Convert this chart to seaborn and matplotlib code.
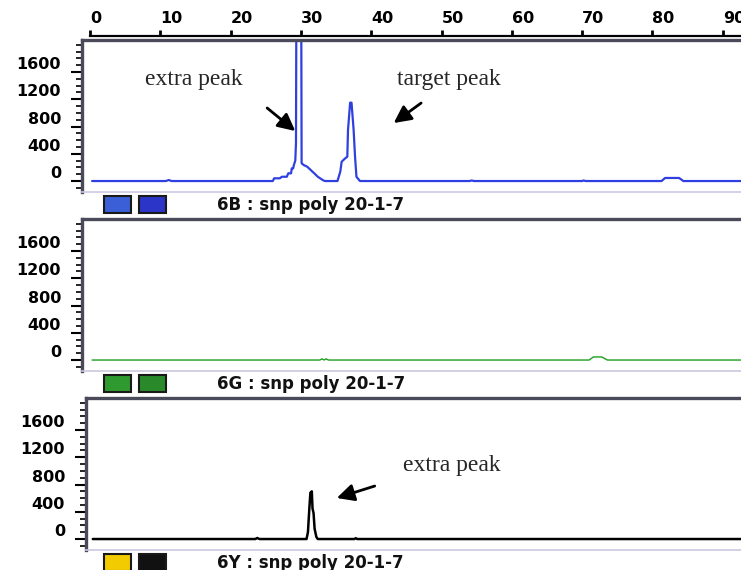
import matplotlib
matplotlib.use("Agg")
import matplotlib.pyplot as plt
from matplotlib.patches import Rectangle
from matplotlib.ticker import MultipleLocator
import seaborn as sns
import pandas as pd

# --- trace data (size in bp, signal in RFU) ---
blue_x = [0.3, 10.8, 11.2, 11.6, 26.0, 26.2, 27.0, 27.3, 28.0, 28.2, 28.6, 28.7, 28.9, 29.0, 29.2,
          29.3, 29.35, 29.7, 30.05, 30.1, 30.4, 30.9, 31.4, 31.9, 32.4, 33.1, 33.4, 35.2, 35.6,
          35.8, 36.3, 36.6, 36.7, 37.0, 37.2, 37.5, 37.7, 37.9, 38.4, 54.0, 54.3, 54.6, 70.0,
          70.2, 70.5, 81.3, 81.8, 83.8, 84.4, 92.6]
blue_y = [0, 0, 15, 0, 0, 40, 40, 63, 63, 113, 113, 186, 186, 235, 300,
          553, 2400, 3300, 2400, 260, 235, 210, 161, 113, 63, 15, 0, 0, 137,
          284, 333, 357, 749, 1150, 1150, 749, 357, 63, 0, 0, 8, 0, 0,
          8, 0, 0, 45, 45, 0, 0]

green_x = [0.3, 32.7, 33.0, 33.3, 33.6, 33.9, 71.0, 71.6, 72.8, 73.6, 92.6]
green_y = [0, 0, 18, 0, 18, 0, 0, 45, 45, 0, 0]

black_x = [0.4, 23.5, 23.8, 24.1, 30.8, 31.0, 31.2, 31.35, 31.55, 31.65, 31.8, 31.95, 32.2,
           32.4, 37.6, 37.8, 38.0, 92.6]
black_y = [0, 0, 15, 0, 0, 100, 450, 680, 700, 450, 380, 150, 30,
           0, 0, 12, 0, 0]

size_ticks = list(range(0, 100, 10))
rfu_ticks = [0, 400, 800, 1200, 1600]
panel_names = ["6B : snp poly 20-1-7", "6G : snp poly 20-1-7", "6Y : snp poly 20-1-7"]
panel_colors = ["#3040e0", "#1f9e1f", "#000000"]
swatch_colors = [("#3b5fd6", "#2b35c8"), ("#2f9a2f", "#2a8a2a"), ("#f2cc00", "#111111")]

sns.set_theme(style="white")
plt.rcParams["font.family"] = ["DejaVu Sans"]

W, H = 741, 570
fig = plt.figure(figsize=(W / 100, H / 100), dpi=100)


def fx(px):
    return px / W


def fy(py):
    return 1 - py / H


PX_PER_BP = 7.03
XMAX = 92.6
YMIN, YMAX = -161, 2070

# top size scale
ax_top = fig.add_axes([fx(90), fy(36), (W - 90) / W, 0.0005])
ax_top.set_xlim(0, XMAX)
ax_top.set_yticks([])
for s in ["left", "right", "bottom"]:
    ax_top.spines[s].set_visible(False)
ax_top.spines["top"].set_linewidth(1.6)
ax_top.spines["top"].set_color("black")
ax_top.xaxis.tick_top()
ax_top.set_xticks(size_ticks)
ax_top.set_xticklabels([str(t) for t in size_ticks], ha="left", fontsize=11.5, fontweight="bold")
ax_top.tick_params(axis="x", direction="out", length=4, width=2, pad=3, colors="black")
ax_top.patch.set_visible(False)

# (left, top, bottom) of each panel in pixels
panels = [(82, 40, 192), (82, 219, 371), (86, 398, 550)]
traces = [(blue_x, blue_y, 1.6), (green_x, green_y, 1.0), (black_x, black_y, 1.8)]
axes = []
for i, (left, top, bottom) in enumerate(panels):
    ax = fig.add_axes([fx(left), fy(bottom), (W - left) / W, (bottom - top) / H])
    tx, ty, lw = traces[i]
    df = pd.DataFrame({"size": tx, "rfu": ty})
    sns.lineplot(data=df, x="size", y="rfu", ax=ax, color=panel_colors[i], lw=lw,
                 sort=False, estimator=None)
    ax.set_xlim((left - 90) / PX_PER_BP, XMAX)
    ax.set_ylim(YMIN, YMAX)
    ax.set_xlabel("")
    ax.set_ylabel("")
    ax.set_xticks([])
    ax.set_yticks(rfu_ticks)
    ax.set_yticklabels([str(t) for t in rfu_ticks], fontsize=11.5, fontweight="bold", va="bottom")
    ax.yaxis.set_minor_locator(MultipleLocator(100))
    ax.tick_params(axis="y", which="major", direction="out", length=8, width=1.5,
                   pad=7, colors="black", left=True)
    ax.tick_params(axis="y", which="minor", direction="out", length=4, width=1.2,
                   colors="black", left=True)
    ax.spines["right"].set_visible(False)
    for s in ["left", "top"]:
        ax.spines[s].set_color("#4a4a5a")
        ax.spines[s].set_linewidth(2.4)
    ax.spines["bottom"].set_color("#cbc8e0")
    ax.spines["bottom"].set_linewidth(1.2)
    axes.append(ax)

    # dye swatches and sample name under each panel
    c1, c2 = swatch_colors[i]
    for x0, c in [(104, c1), (139, c2)]:
        fig.patches.append(Rectangle((fx(x0), fy(bottom + 21)), 27 / W, 17 / H,
                                     transform=fig.transFigure, facecolor=c,
                                     edgecolor="#1a1a1a", lw=1.5))
    fig.text(fx(217), fy(bottom + 13), panel_names[i], fontsize=12, fontweight="bold",
             va="center", ha="left", color="#111111")

arrow = dict(arrowstyle="-|>,head_length=0.8,head_width=0.4", mutation_scale=13,
             color="black", lw=2, shrinkA=0, shrinkB=0)
serif = ["Liberation Serif", "DejaVu Serif"]

ax1, ax3 = axes[0], axes[2]
ax1.text(14.7, 1483, "extra peak", family=serif, fontsize=17, ha="center", va="center")
ax1.text(51.1, 1483, "target peak", family=serif, fontsize=17, ha="center", va="center")
ax1.annotate("", xy=(29.2, 734), xytext=(25.2, 1072), arrowprops=arrow)
ax1.annotate("", xy=(43.2, 851), xytext=(47.1, 1145), arrowprops=arrow)

ax3.text(51.4, 1086, "extra peak", family=serif, fontsize=17, ha="center", va="center")
ax3.annotate("", xy=(35.1, 602), xytext=(40.5, 778), arrowprops=arrow)

fig.savefig("out.png", dpi=100)
